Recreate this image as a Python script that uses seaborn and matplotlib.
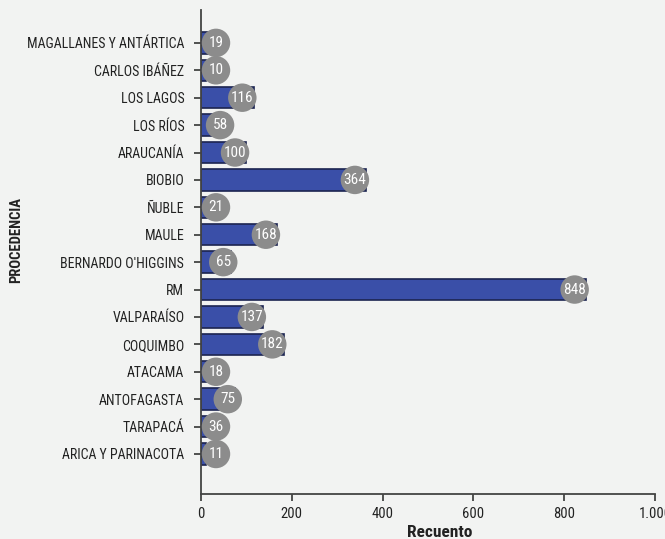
import matplotlib
matplotlib.use("Agg")
import matplotlib.pyplot as plt
import seaborn as sns
import pandas as pd

regiones = ["MAGALLANES Y ANTÁRTICA", "CARLOS IBÁÑEZ", "LOS LAGOS", "LOS RÍOS", "ARAUCANÍA",
            "BIOBIO", "ÑUBLE", "MAULE", "BERNARDO O'HIGGINS", "RM", "VALPARAÍSO",
            "COQUIMBO", "ATACAMA", "ANTOFAGASTA", "TARAPACÁ", "ARICA Y PARINACOTA"]
recuento = [19, 10, 116, 58, 100, 364, 21, 168, 65, 848, 137, 182, 18, 75, 36, 11]
xticks = [0, 200, 400, 600, 800, 1000]
xticklabels = ["0", "200", "400", "600", "800", "1.000"]

df = pd.DataFrame({"Procedencia": regiones, "Recuento": recuento})

sns.set_theme(style="white")
fam = ["Roboto Condensed", "Liberation Sans Narrow", "Roboto", "DejaVu Sans"]
plt.rcParams["font.family"] = fam
bg = "#f2f3f2"

fig = plt.figure(figsize=(6.65, 5.39), dpi=100, facecolor=bg)
ax = fig.add_axes([201/665, 45/539, (655-201)/665, (494-10)/539])
ax.set_facecolor(bg)

sns.barplot(data=df, y="Procedencia", x="Recuento", orient="h", color="#3a4fa8",
            saturation=1, width=0.78, edgecolor="#1c2450", linewidth=1.2, ax=ax)

cxs = [max(v - (16 if v < 100 else 25), 33) for v in recuento]
ys = list(range(len(recuento)))
ax.scatter(cxs, ys, s=420, color="#8c8c8c", edgecolors="none", zorder=4, clip_on=False)
for cx, y, v in zip(cxs, ys, recuento):
    ax.text(cx, y, str(v), ha="center", va="center", color="white", fontsize=11, zorder=5)

ax.set_xlim(0, 1000)
ax.set_ylim(16.46, -1.2)
ax.set_xticks(xticks)
ax.set_xticklabels(xticklabels)
ax.set_xlabel("Recuento", fontsize=12.5, fontweight="bold", color="#222222")
ax.xaxis.set_label_coords((440-201)/454, (494-525)/484)
ax.set_ylabel("PROCEDENCIA", fontsize=10.5, fontweight="bold", color="#222222")
ax.yaxis.set_label_coords(-178/454, (494-240)/484)

for s in ["top", "right"]:
    ax.spines[s].set_visible(False)
for s in ["left", "bottom"]:
    ax.spines[s].set_color("#444444")
    ax.spines[s].set_linewidth(1.3)
ax.tick_params(axis="both", which="major", length=5, width=1.3, color="#444444",
               labelcolor="#222222", labelsize=10, bottom=True, left=True)
ax.tick_params(axis="y", pad=7)
ax.tick_params(axis="x", labelsize=10.5, pad=4)

fig.savefig("out.png", dpi=100, facecolor=bg)
